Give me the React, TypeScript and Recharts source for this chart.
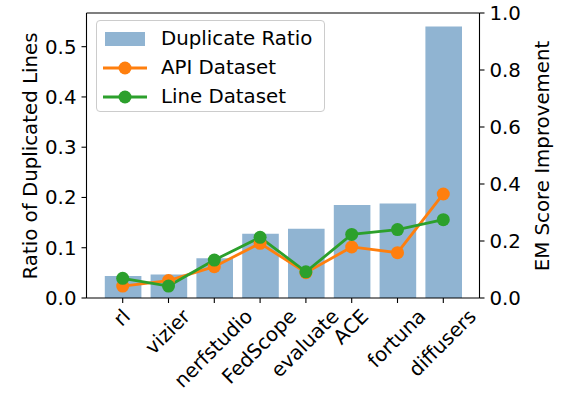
import React from 'react';
import { ComposedChart, Bar, Line, XAxis, YAxis, ReferenceLine, Legend, Label } from 'recharts';

const categories = ['rl', 'vizier', 'nerfstudio', 'FedScope', 'evaluate', 'ACE', 'fortuna', 'diffusers'];
const duplicateRatio = [0.044, 0.047, 0.079, 0.128, 0.138, 0.185, 0.188, 0.54];
const apiDataset = [0.042, 0.061, 0.11, 0.192, 0.089, 0.179, 0.159, 0.365];
const lineDataset = [0.069, 0.042, 0.133, 0.213, 0.092, 0.223, 0.24, 0.275];
const leftTicks = [0, 0.1, 0.2, 0.3, 0.4, 0.5];
const rightTicks = [0, 0.2, 0.4, 0.6, 0.8, 1.0];

const data = categories.map((c, i) => ({
  name: c,
  dup: duplicateRatio[i],
  api: apiDataset[i],
  line: lineDataset[i],
}));

const FONT = '"DejaVu Sans", sans-serif';
const FS = 19.8;
const BAR = '#90b4d2';
const ORANGE = '#ff7f0e';
const GREEN = '#2ca02c';

let ctx: CanvasRenderingContext2D | null = null;
function measure(s: string): number {
  if (!ctx) {
    const c = document.createElement('canvas');
    ctx = c.getContext('2d');
  }
  if (!ctx) return s.length * FS * 0.6;
  ctx.font = `${FS}px "DejaVu Sans"`;
  return ctx.measureText(s).width;
}

const XTick = (props: any) => {
  const { x, y, payload } = props;
  const s = String(payload.value);
  const L = measure(s);
  const H = 0.97 * FS;
  const d = (L + H) * Math.SQRT1_2;
  const cy = y - 1 + d / 2;
  return (
    <g transform={`translate(${x},${cy}) rotate(-45)`}>
      <text x={0} y={0.276 * FS} textAnchor="middle" fontFamily={FONT} fontSize={FS} fill="#000">
        {s}
      </text>
    </g>
  );
};

const renderLegend = () => {
  const row = (top: number, handle: React.ReactNode, label: string) => (
    <div style={{ position: 'absolute', left: 0, top: top - 15, height: 30, display: 'flex', alignItems: 'center' }}>
      <svg width={60} height={30} style={{ display: 'block' }}>{handle}</svg>
      <span style={{ fontFamily: FONT, fontSize: FS, color: '#000', marginLeft: 4, whiteSpace: 'nowrap', lineHeight: '30px' }}>{label}</span>
    </div>
  );
  return (
    <div
      style={{
        position: 'relative',
        width: 229,
        height: 92,
        border: '1px solid #cccccc',
        borderRadius: 4,
        background: 'rgba(255,255,255,0.8)',
        boxSizing: 'border-box',
      }}
    >
      {row(18, <rect x={8} y={8} width={40} height={14} fill={BAR} />, 'Duplicate Ratio')}
      {row(47, <g><line x1={6} x2={50} y1={15} y2={15} stroke={ORANGE} strokeWidth={2.8} /><circle cx={28} cy={15} r={6.5} fill={ORANGE} /></g>, 'API Dataset')}
      {row(75.5, <g><line x1={6} x2={50} y1={15} y2={15} stroke={GREEN} strokeWidth={2.8} /><circle cx={28} cy={15} r={6.5} fill={GREEN} /></g>, 'Line Dataset')}
    </div>
  );
};

const tickStyle = { fontFamily: FONT, fontSize: FS, fill: '#000' };

export default function App() {
  return (
    <div style={{ position: 'absolute', left: 0, top: 0, width: 561, height: 401, background: '#fff' }}>
      <ComposedChart width={561} height={401} data={data} margin={{ top: 13, right: 0, bottom: 0, left: 0 }}>
        <XAxis
          dataKey="name"
          height={103}
          padding={{ left: 13.3, right: 13.3 }}
          interval={0}
          tick={<XTick />}
          tickSize={5}
          tickMargin={5}
          axisLine={{ stroke: '#000', strokeWidth: 1.1 }}
          tickLine={{ stroke: '#000', strokeWidth: 1.1 }}
        />
        <YAxis
          yAxisId="left"
          orientation="left"
          width={86.5}
          domain={[0, 0.567]}
          ticks={leftTicks}
          tickFormatter={(v: number) => v.toFixed(1)}
          tick={tickStyle}
          tickSize={5}
          tickMargin={5}
          allowDataOverflow
          axisLine={{ stroke: '#000', strokeWidth: 1.1 }}
          tickLine={{ stroke: '#000', strokeWidth: 1.1 }}
        >
          <Label
            content={() => (
              <text x={30} y={156} transform="rotate(-90 30 156)" textAnchor="middle" dominantBaseline="central" fontFamily={FONT} fontSize={FS} fill="#000">
                Ratio of Duplicated Lines
              </text>
            )}
          />
        </YAxis>
        <YAxis
          yAxisId="right"
          orientation="right"
          width={81.5}
          domain={[0, 1]}
          ticks={rightTicks}
          tickFormatter={(v: number) => v.toFixed(1)}
          tick={tickStyle}
          tickSize={5}
          tickMargin={5}
          allowDataOverflow
          axisLine={{ stroke: '#000', strokeWidth: 1.1 }}
          tickLine={{ stroke: '#000', strokeWidth: 1.1 }}
        >
          <Label
            content={() => (
              <text x={542} y={156} transform="rotate(-90 542 156)" textAnchor="middle" dominantBaseline="central" fontFamily={FONT} fontSize={FS} fill="#000">
                EM Score Improvement
              </text>
            )}
          />
        </YAxis>
        <Bar yAxisId="left" dataKey="dup" name="Duplicate Ratio" fill={BAR} barSize={36.6} isAnimationActive={false} />
        <Line
          yAxisId="right"
          dataKey="api"
          name="API Dataset"
          stroke={ORANGE}
          strokeWidth={2.8}
          dot={{ r: 6.5, fill: ORANGE, stroke: 'none' }}
          activeDot={false}
          isAnimationActive={false}
        />
        <Line
          yAxisId="right"
          dataKey="line"
          name="Line Dataset"
          stroke={GREEN}
          strokeWidth={2.8}
          dot={{ r: 6.5, fill: GREEN, stroke: 'none' }}
          activeDot={false}
          isAnimationActive={false}
        />
        <ReferenceLine yAxisId="right" y={1} stroke="#000" strokeWidth={1.1} />
        <Legend
          layout="horizontal"
          verticalAlign="middle"
          align="center"
          content={renderLegend}
          wrapperStyle={{ position: 'absolute', left: 96, top: 20, width: 229, height: 92 }}
        />
      </ComposedChart>
    </div>
  );
}
